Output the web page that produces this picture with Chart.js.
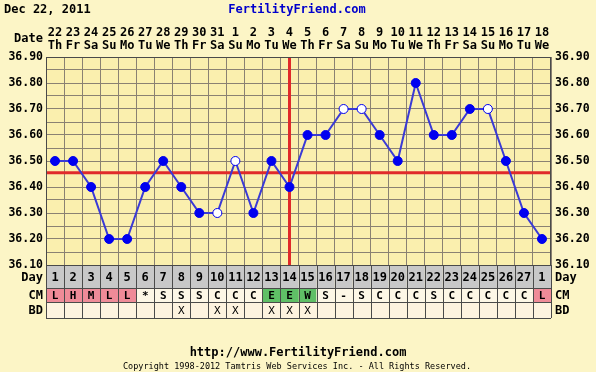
<!DOCTYPE html>
<html><head><meta charset="utf-8">
<script src="https://cdn.jsdelivr.net/npm/chart.js@4/dist/chart.umd.min.js"></script>
<style>html,body{margin:0;padding:0;background:#fcf5c6;}#wrap{width:596px;height:372px;}</style>
</head><body><div id="wrap"><canvas id="c" width="596" height="372"></canvas></div>
<script>
const chartDate = 'Dec 22, 2011';
const siteTitle = 'FertilityFriend.com';
const footerUrl = 'http://www.FertilityFriend.com';
const copyright = 'Copyright 1998-2012 Tamtris Web Services Inc. - All Rights Reserved.';
const cycleDays = [1,2,3,4,5,6,7,8,9,10,11,12,13,14,15,16,17,18,19,20,21,22,23,24,25,26,27,1];
const dateNums = ['22','23','24','25','26','27','28','29','30','31','1','2','3','4','5','6','7','8','9','10','11','12','13','14','15','16','17','18'];
const weekdays = ['Th','Fr','Sa','Su','Mo','Tu','We','Th','Fr','Sa','Su','Mo','Tu','We','Th','Fr','Sa','Su','Mo','Tu','We','Th','Fr','Sa','Su','Mo','Tu','We'];
const temps = [36.50,36.50,36.40,36.20,36.20,36.40,36.50,36.40,36.30,36.30,36.50,36.30,36.50,36.40,36.60,36.60,36.70,36.70,36.60,36.50,36.80,36.60,36.60,36.70,36.70,36.50,36.30,36.20];
const openPoints = [10,11,17,18,25];
const cmCodes = ['L','H','M','L','L','*','S','S','S','C','C','C','E','E','W','S','-','S','C','C','C','S','C','C','C','C','C','L'];
const bdDays = [8,10,11,13,14,15];
const coverline = 36.455;
const ovulationDay = 14;
const yTicks = [36.10,36.15,36.20,36.25,36.30,36.35,36.40,36.45,36.50,36.55,36.60,36.65,36.70,36.75,36.80,36.85,36.90];

const N = temps.length;
const PAGE_BG = '#fcf5c6', PLOT_BG = '#faefae', GRID = '#8a8172', FRAME = '#4a4a4a';
const MONO = '"DejaVu Sans Mono", "Liberation Mono", monospace';
const cmColor = c => (c==='L'||c==='H'||c==='M') ? '#ef8b98' : ((c==='E'||c==='W') ? '#5fbf66' : '#fdf7e6');

const tempPoints = temps.map((t,i)=>({x:i+1,y:t}));
const boundaries = Array.from({length:N+1},(_,i)=>i+0.5);

const decor = {
  id:'decor',
  beforeDraw(chart){
    const {ctx, chartArea:a} = chart;
    ctx.save();
    ctx.fillStyle = PAGE_BG; ctx.fillRect(0,0,chart.width,chart.height);
    ctx.fillStyle = PLOT_BG; ctx.fillRect(a.left,a.top,a.right-a.left,a.bottom-a.top);
    ctx.restore();
  },
  afterDraw(chart){
    const {ctx, chartArea:a} = chart;
    const xs = chart.scales.x;
    ctx.save();
    // frame
    ctx.strokeStyle = FRAME; ctx.lineWidth = 1;
    ctx.strokeRect(a.left+0.5,a.top+0.5,a.right-a.left-1,a.bottom-a.top);
    // table
    const r0 = a.bottom, r1 = r0+23, r2 = r1+14, r3 = r2+16;
    for(let i=0;i<N;i++){
      const l = xs.getPixelForValue(i+0.5), r = xs.getPixelForValue(i+1.5);
      ctx.fillStyle = '#c8c8c8'; ctx.fillRect(l,r0,r-l,r1-r0);
      ctx.fillStyle = cmColor(cmCodes[i]); ctx.fillRect(l,r1,r-l,r2-r1);
      ctx.fillStyle = '#fdf3df'; ctx.fillRect(l,r2,r-l,r3-r2);
    }
    ctx.fillStyle = '#000'; ctx.textAlign='center'; ctx.textBaseline='middle';
    for(let i=0;i<N;i++){
      const cx = xs.getPixelForValue(i+1);
      ctx.font = 'bold 12px '+MONO; ctx.fillText(String(cycleDays[i]), cx, (r0+r1)/2+1);
      ctx.font = 'bold 11px '+MONO; ctx.fillText(cmCodes[i], cx, (r1+r2)/2+1);
      if(bdDays.includes(i+1)){ ctx.font = '11px '+MONO; ctx.fillText('X', cx, (r2+r3)/2+1); }
    }
    ctx.strokeStyle = FRAME; ctx.lineWidth = 1;
    ctx.beginPath();
    for(let i=0;i<=N;i++){
      const x = Math.round(xs.getPixelForValue(i+0.5))+0.5;
      ctx.moveTo(x,r0); ctx.lineTo(x,r3);
    }
    [r0,r1,r2,r3].forEach(y=>{ctx.moveTo(a.left,y+0.5);ctx.lineTo(a.right,y+0.5);});
    ctx.stroke();
    // side labels
    ctx.font = 'bold 12px '+MONO; ctx.fillStyle='#000';
    ctx.textAlign='right';
    ctx.fillText('Day', a.left-3, (r0+r1)/2+1);
    ctx.fillText('CM', a.left-3, (r1+r2)/2+1);
    ctx.fillText('BD', a.left-3, (r2+r3)/2+1);
    ctx.fillText('Date', a.left-3, 39);
    ctx.textAlign='left';
    ctx.fillText('Day', a.right+4, (r0+r1)/2+1);
    ctx.fillText('CM', a.right+4, (r1+r2)/2+1);
    ctx.fillText('BD', a.right+4, (r2+r3)/2+1);
    // header
    ctx.textAlign='left';
    ctx.fillText(chartDate, 4, 10);
    ctx.fillStyle='#0000cc'; ctx.textAlign='center';
    ctx.fillText(siteTitle, 297, 10);
    // footer
    ctx.fillStyle='#000';
    ctx.fillText(footerUrl, 298, 353);
    ctx.font = '8.5px '+MONO;
    ctx.fillText(copyright, 297, 367);
    ctx.restore();
  }
};

new Chart(document.getElementById('c'), {
  type:'line',
  data:{datasets:[
    {label:'temp', data:tempPoints, xAxisID:'x', yAxisID:'y', order:0,
     borderColor:'#3a3ad6', borderWidth:2, tension:0,
     pointRadius:4.5, pointBorderWidth:1, pointBorderColor:'#0000ee',
     pointBackgroundColor: temps.map((t,i)=>openPoints.includes(i+1)?'#ffffff':'#0000f0')},
    {label:'coverline', data:[{x:0.5,y:coverline},{x:N+0.5,y:coverline}], xAxisID:'x', yAxisID:'y', order:1,
     borderColor:'#e02a2a', borderWidth:3, pointRadius:0},
    {label:'ovulation', data:[{x:ovulationDay,y:36.1},{x:ovulationDay,y:36.9}], xAxisID:'x', yAxisID:'y', order:2,
     borderColor:'#e02a2a', borderWidth:3, pointRadius:0}
  ]},
  options:{
    responsive:false, animation:false, devicePixelRatio:1,
    layout:{padding:{top:0,left:0,right:0,bottom:107}},
    plugins:{legend:{display:false}, tooltip:{enabled:false}},
    scales:{
      x:{type:'linear', position:'bottom', min:0.5, max:N+0.5,
         afterBuildTicks:s=>{s.ticks = boundaries.map(v=>({value:v}));},
         ticks:{display:false}, border:{display:false},
         grid:{color:GRID, lineWidth:1, drawTicks:false},
         afterFit:s=>{s.height=0;}},
      xt:{type:'linear', position:'top', min:0.5, max:N+0.5,
         afterBuildTicks:s=>{s.ticks = dateNums.map((d,i)=>({value:i+1}));},
         ticks:{autoSkip:false, maxRotation:0, color:'#000', padding:5,
                font:{family:MONO, size:12, weight:'bold', lineHeight:1.05},
                callback:(v,i)=>[dateNums[i], weekdays[i]]},
         border:{display:false}, grid:{display:false, drawTicks:false},
         afterFit:s=>{s.height=57;}},
      y:{type:'linear', position:'left', min:36.1, max:36.9,
         afterBuildTicks:s=>{s.ticks = yTicks.map(v=>({value:v}));},
         ticks:{autoSkip:false, color:'#000', padding:3,
                font:{family:MONO, size:11.5, weight:'bold'},
                callback:(v,i)=> i%2===0 ? yTicks[i].toFixed(2) : ''},
         border:{display:false}, grid:{color:GRID, lineWidth:1, drawTicks:false},
         afterFit:s=>{s.width=46;}},
      y2:{type:'linear', position:'right', min:36.1, max:36.9,
         afterBuildTicks:s=>{s.ticks = yTicks.map(v=>({value:v}));},
         ticks:{autoSkip:false, color:'#000', padding:4,
                font:{family:MONO, size:11.5, weight:'bold'},
                callback:(v,i)=> i%2===0 ? yTicks[i].toFixed(2) : ''},
         border:{display:false}, grid:{display:false, drawTicks:false},
         afterFit:s=>{s.width=45;}}
    }
  },
  plugins:[decor]
});
</script></body></html>
